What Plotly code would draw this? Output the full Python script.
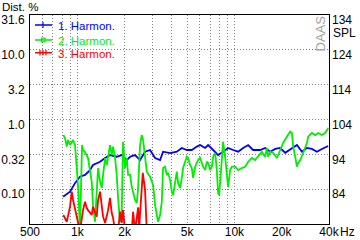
import plotly.graph_objects as go

# ---------------- data ----------------
h1_freq = [812, 899, 967, 1040, 1120, 1205, 1259, 1396, 1503, 1616, 1782, 1918, 2065, 2135,
           2168, 2333, 2509, 2700, 2906, 3127, 3365, 3515, 3898, 4300, 4627, 4977, 5357, 5765,
           6052, 6512, 6805, 7326, 7874, 8473, 9118, 9814, 10566, 11370, 12235, 13150, 14585,
           15700, 16900, 18200, 19570, 21040, 23220, 25000, 26910, 28920, 31120, 33490, 36040, 39530]
h1_pct = [0.078, 0.092, 0.122, 0.151, 0.16, 0.188, 0.222, 0.248, 0.28, 0.309, 0.292, 0.309, 0.262, 0.28,
          0.292, 0.309, 0.262, 0.345, 0.365, 0.28, 0.262, 0.345, 0.33, 0.345, 0.39, 0.365, 0.365, 0.408,
          0.43, 0.39, 0.43, 0.365, 0.309, 0.345, 0.39, 0.365, 0.345, 0.39, 0.43, 0.365, 0.365,
          0.39, 0.345, 0.378, 0.39, 0.333, 0.39, 0.43, 0.345, 0.39, 0.378, 0.345, 0.378, 0.417]

h2_freq = [815, 835, 857, 873, 899, 922, 940, 967, 981, 1000, 1016, 1026, 1040, 1072, 1088, 1120,
           1170, 1236, 1259, 1297, 1330, 1356, 1396, 1431, 1459, 1503, 1541, 1616, 1657, 1690, 1740,
           1782, 1818, 1871, 1918, 1955, 2013, 2065, 2105, 2168, 2222, 2333, 2392, 2438, 2509, 2572,
           2622, 2700, 2768, 2906, 3036, 3127, 3206, 3267, 3365, 3450, 3515, 3622, 3715, 3784, 3898,
           3997, 4074, 4196, 4300, 4384, 4515, 4627, 4716, 4857, 4977, 5073, 5226, 5357, 5459, 5623,
           5875, 6052, 6325, 6512, 6676, 6805, 7010, 7187, 7326, 7546, 7729, 7874, 7997, 8200, 8317,
           8473, 8728, 8950, 9118, 9393, 9634, 10110, 10566, 11148, 11700, 12235, 12915, 13550, 14160,
           14950, 15700, 16100, 16400, 16900, 17650, 18640, 19570, 20420, 21580, 22650, 23220, 23660,
           24370, 25000, 25470, 26240, 27400, 28920, 29500, 31120, 32660, 34120, 36040, 37840, 39530]
h2_pct = [0.598, 0.542, 0.408, 0.508, 0.43, 0.48, 0.508, 0.43, 0.309, 0.16, 0.092, 0.054, 0.025, 0.43, 0.365, 0.34,
          0.28, 0.128, 0.059, 0.034, 0.09, 0.201, 0.128, 0.104, 0.16, 0.28, 0.222, 0.43, 0.309, 0.408, 0.28,
          0.16, 0.075, 0.034, 0.046, 0.48, 0.201, 0.28, 0.16, 0.16, 0.108, 0.07, 0.063, 0.104, 0.43, 0.598,
          0.508, 0.28, 0.178, 0.151, 0.115, 0.059, 0.0426, 0.034, 0.0426, 0.066, 0.201, 0.21, 0.16, 0.171, 0.136,
          0.092, 0.082, 0.128, 0.178, 0.122, 0.104, 0.145, 0.201, 0.248, 0.292, 0.28, 0.222, 0.201, 0.145, 0.21,
          0.262, 0.28, 0.21, 0.188, 0.248, 0.238, 0.188, 0.21, 0.292, 0.33, 0.188, 0.088, 0.082, 0.171, 0.292,
          0.48, 0.292, 0.171, 0.108, 0.188, 0.21, 0.21, 0.188, 0.201, 0.21, 0.248, 0.28, 0.262, 0.292,
          0.345, 0.292, 0.39, 0.292, 0.345, 0.33, 0.28, 0.365, 0.46, 0.566, 0.67, 0.64, 0.408,
          0.292, 0.21, 0.238, 0.262, 0.33, 0.46, 0.566, 0.64, 0.598, 0.64, 0.598, 0.64, 0.755]

h3_freq = [815, 857, 899, 922, 940, 967, 994, 1016, 1040, 1088, 1120, 1148, 1170, 1236, 1259, 1330,
           1356, 1396, 1431, 1459, 1503, 1570, 1616, 1657, 1690, 1740, 1818, 1871, 1918, 1955, 2013,
           2222, 2266, 2333, 2438, 2472, 2509, 2572, 2612, 2700, 2741, 2768]
h3_pct = [0.0426, 0.034, 0.056, 0.092, 0.07, 0.054, 0.0385, 0.0327, 0.025, 0.05, 0.066, 0.054, 0.05, 0.0426, 0.056, 0.0403,
          0.07, 0.092, 0.056, 0.0403, 0.0327, 0.05, 0.075, 0.0455, 0.0385, 0.025, 0.025, 0.0475, 0.0327, 0.05, 0.025,
          0.025, 0.0475, 0.025, 0.055, 0.025, 0.045, 0.092, 0.171, 0.097, 0.0475, 0.025]

x_tick_vals = [500, 1000, 2000, 5000, 10000, 20000, 40000]
x_tick_text = ["500", "1k", "2k", "5k", "10k", "20k", "40k"]
x_grid_vals = [600, 700, 800, 900, 1000, 2000, 3000, 4000, 5000, 6000, 7000, 8000, 9000, 10000]
y_tick_vals = [31.6, 10.0, 3.16, 1.0, 0.316, 0.1]
y_tick_text = ["31.6", "10.0", "3.2", "1.0", "0.32", "0.10"]
spl_tick_vals = [84, 94, 104, 114, 124, 134]
series_names = ["1. Harmon.", "2. Harmon.", "3. Harmon."]
series_colors = ["#0000ff", "#00ee00", "#ff0000"]

# ---------------- layout helpers (pixel -> paper) ----------------
L, R, T, B = 30, 329, 15, 224
def px(x):
    return (x - L) / (R - L)
def py(y):
    return (B - y) / (B - T)

FONT = "Liberation Sans, Arial, sans-serif"

fig = go.Figure()
for fx, fy, c in [(h1_freq, h1_pct, series_colors[0]), (h2_freq, h2_pct, series_colors[1]),
                  (h3_freq, h3_pct, series_colors[2])]:
    fig.add_trace(go.Scatter(x=fx, y=fy, mode="lines", line=dict(color=c, width=1.8),
                             showlegend=False, hoverinfo="skip"))
fig.add_trace(go.Scatter(x=[1000], y=[None], yaxis="y2", mode="lines", showlegend=False, hoverinfo="skip"))

annotations = [
    dict(text="Dist. %", x=px(1), y=py(0), xref="paper", yref="paper", xanchor="left", yanchor="top",
         borderpad=0, showarrow=False, font=dict(family=FONT, size=11.5, color="black")),
    dict(text="SPL", x=px(331), y=py(33), xref="paper", yref="paper", xanchor="left", yanchor="middle",
         showarrow=False, font=dict(family=FONT, size=12, color="black")),
    dict(text="Hz", x=px(338), y=py(232), xref="paper", yref="paper", xanchor="left", yanchor="middle",
         showarrow=False, font=dict(family=FONT, size=12, color="black")),
    dict(text="DAAS", x=px(319.5), y=py(34), xref="paper", yref="paper", xanchor="center", yanchor="middle",
         textangle=-90, showarrow=False, font=dict(family=FONT, size=13, color="#a0a0a0")),
]
shapes = []
leg_y = [25, 40, 52.7]
for i, (n, c) in enumerate(zip(series_names, series_colors)):
    yy = leg_y[i]
    annotations.append(dict(text=n, x=px(56), y=py(yy + 1), xref="paper", yref="paper",
                            xanchor="left", yanchor="middle", showarrow=False,
                            font=dict(family=FONT, size=11.5, color=c)))
    shapes.append(dict(type="line", xref="paper", yref="paper", x0=px(35), x1=px(52), y0=py(yy), y1=py(yy),
                       line=dict(color=c, width=1.5)))
# legend symbol decorations
shapes.append(dict(type="line", xref="paper", yref="paper", x0=px(43), x1=px(43), y0=py(22), y1=py(28),
                   line=dict(color=series_colors[0], width=1.2)))
shapes.append(dict(type="rect", xref="paper", yref="paper", x0=px(41.5), x1=px(45), y0=py(38.2), y1=py(41.8),
                   line=dict(color=series_colors[1], width=1.2)))
for xx in (40, 43, 46):
    shapes.append(dict(type="line", xref="paper", yref="paper", x0=px(xx), x1=px(xx), y0=py(50), y1=py(55.5),
                       line=dict(color=series_colors[2], width=1.2)))

fig.update_layout(
    width=360, height=240,
    margin=dict(l=L, r=360 - R, t=T, b=240 - B, pad=0, autoexpand=False),
    paper_bgcolor="white", plot_bgcolor="white",
    font=dict(family=FONT, size=12, color="black"),
    showlegend=False,
    xaxis=dict(type="log", range=[2.69897, 4.60206], tickmode="array", tickvals=x_tick_vals,
               ticktext=x_tick_text, showgrid=False, ticks="", showline=True, mirror=True,
               linecolor="black", linewidth=1, zeroline=False, tickfont=dict(size=12),
               ticklabelstandoff=-3, automargin=False,
               minor=dict(tickmode="array", tickvals=x_grid_vals, showgrid=True, gridcolor="#808080",
                          griddash="1px,2px", gridwidth=1, ticks="")),
    yaxis=dict(type="log", range=[-1.5, 1.5], tickmode="array", tickvals=y_tick_vals, ticktext=y_tick_text,
               showgrid=True, gridcolor="#808080", griddash="1px,2px", gridwidth=1, ticks="",
               showline=True, mirror=True, linecolor="black", linewidth=1, zeroline=False,
               ticklabelshift=5, ticklabelstandoff=2, tickfont=dict(size=12), automargin=False),
    yaxis2=dict(overlaying="y", side="right", range=[74, 134], tickmode="array", tickvals=spl_tick_vals,
                showgrid=False, ticks="", showline=False, zeroline=False, ticklabelshift=5,
                ticklabelstandoff=2, tickfont=dict(size=12), automargin=False),
    annotations=annotations,
    shapes=shapes,
)

fig.write_html("out.html")
